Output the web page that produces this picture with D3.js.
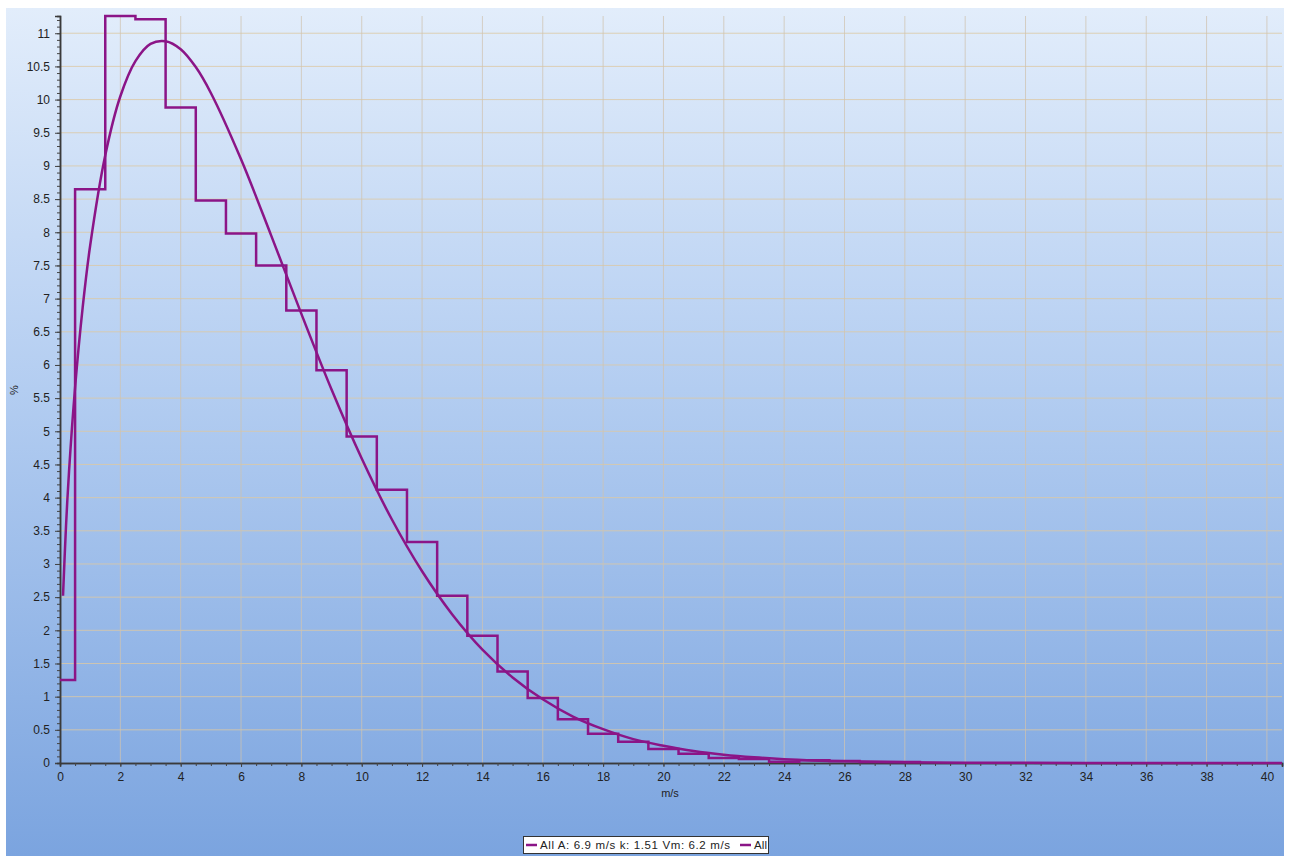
<!DOCTYPE html>
<html lang="en">

<head>
    <meta charset="UTF-8">
    <title>Weibull distribution</title>
    <script src="https://d3js.org/d3.v7.min.js"></script>
    <style>
        body { margin: 0; background: #fff; }
        text { font-family: "Liberation Sans", Arial, sans-serif; fill: #222; }
    </style>
</head>

<body>
    <div id="chart"></div>
    <script>
        // histogram bins (m/s) and frequency (%)
        const binEdges = [0, 0.5, 1.5, 2.5, 3.5, 4.5, 5.5, 6.5, 7.5, 8.5, 9.5, 10.5, 11.5, 12.5, 13.5, 14.5,
            15.5, 16.5, 17.5, 18.5, 19.5, 20.5, 21.5, 22.5, 23.5, 24.5, 25.5, 26.5, 27.5, 28.5];
        const binValues = [1.25, 8.65, 11.26, 11.21, 9.88, 8.48, 7.98, 7.5, 6.82, 5.92, 4.92, 4.12, 3.33, 2.52,
            1.92, 1.38, 0.98, 0.66, 0.44, 0.32, 0.21, 0.14, 0.075, 0.06, 0.02, 0.04, 0.03, 0.015, 0.015];

        // fitted curve
        const curveSpeed = [0.1, 0.2, 0.3, 0.5, 0.75, 1, 1.5, 2, 2.5, 3, 3.5, 4, 4.5, 5, 6, 7, 8, 9, 10, 11, 12,
            13, 14, 15, 16, 17, 18, 19, 20, 21, 22, 23, 24, 26, 28, 30, 32, 34, 36, 38, 40.5];
        const curvePct = [2.52, 3.58, 4.4, 5.66, 6.86, 7.8, 9.16, 10.05, 10.58, 10.84, 10.88, 10.76, 10.49, 10.1,
            9.1, 7.95, 6.77, 5.63, 4.59, 3.67, 2.89, 2.24, 1.71, 1.29, 0.96, 0.7, 0.51, 0.36, 0.26, 0.18, 0.125,
            0.086, 0.058, 0.026, 0.011, 0.004, 0.002, 0.001, 0, 0, 0];

        const xTicks = d3.range(0, 41, 2);
        const yTicks = d3.range(0, 11.01, 0.5);
        const legendLabels = ["All A: 6.9 m/s k: 1.51 Vm: 6.2 m/s", "All"];

        const W = 1290, H = 856;
        const purple = "#8b1587";

        const svg = d3.select("#chart").append("svg")
            .attr("width", W)
            .attr("height", H);

        const grad = svg.append("defs").append("linearGradient")
            .attr("id", "bg").attr("x1", 0).attr("y1", 0).attr("x2", 0).attr("y2", 1);
        grad.append("stop").attr("offset", "0%").attr("stop-color", "#e2edfb");
        grad.append("stop").attr("offset", "45%").attr("stop-color", "#b3cdf1");
        grad.append("stop").attr("offset", "100%").attr("stop-color", "#7ba4df");

        svg.append("rect")
            .attr("x", 6).attr("y", 8)
            .attr("width", 1278).attr("height", 848)
            .attr("fill", "url(#bg)");

        const xScale = d3.scaleLinear().domain([0, 40.5]).range([60, 1282]);
        const yScale = d3.scaleLinear().domain([0, 11.26]).range([763, 16]);

        // grid
        svg.append("g").selectAll("line")
            .data(yTicks.filter(d => d > 0))
            .join("line")
            .attr("x1", xScale(0)).attr("x2", xScale(40.5))
            .attr("y1", d => yScale(d)).attr("y2", d => yScale(d))
            .attr("stroke", "#dcc8a4").attr("stroke-opacity", 0.8).attr("stroke-width", 1);

        svg.append("g").selectAll("line")
            .data(xTicks.filter(d => d > 0))
            .join("line")
            .attr("x1", d => xScale(d)).attr("x2", d => xScale(d))
            .attr("y1", yScale(11.26)).attr("y2", yScale(0))
            .attr("stroke", "#cfc3b0").attr("stroke-opacity", 0.75).attr("stroke-width", 1);

        // axes
        svg.append("g")
            .attr("transform", "translate(0," + yScale(0) + ")")
            .call(d3.axisBottom(xScale).tickValues(xTicks).tickSize(4).tickPadding(5));
        svg.append("g")
            .attr("transform", "translate(0," + yScale(0) + ")")
            .call(d3.axisBottom(xScale).tickValues(d3.range(0.5, 40.5, 0.5)).tickSize(3).tickFormat(""));

        svg.append("g")
            .attr("transform", "translate(" + xScale(0) + ",0)")
            .call(d3.axisLeft(yScale).tickValues(yTicks).tickSize(5).tickPadding(5).tickFormat(d3.format("")));
        svg.append("g")
            .attr("transform", "translate(" + xScale(0) + ",0)")
            .call(d3.axisLeft(yScale).tickValues(d3.range(0.1, 11.25, 0.1)).tickSize(3).tickFormat(""));

        svg.selectAll(".domain").attr("stroke", "#3a3a3a").attr("stroke-width", 1.5);
        svg.selectAll(".tick line").attr("stroke", "#444");
        svg.selectAll(".tick text").attr("font-size", 12).attr("fill", "#222");

        svg.append("text")
            .attr("x", 670).attr("y", 797)
            .attr("text-anchor", "middle").attr("font-size", 11)
            .text("m/s");

        svg.append("text")
            .attr("transform", "translate(18,390) rotate(-90)")
            .attr("text-anchor", "middle").attr("font-size", 11)
            .text("%");

        // histogram as a step line
        const stepData = binValues.map((v, i) => ({ x: binEdges[i], y: v }));
        stepData.push({ x: binEdges[binEdges.length - 1], y: 0 });

        const stepLine = d3.line()
            .x(d => xScale(d.x))
            .y(d => yScale(d.y))
            .curve(d3.curveStepAfter);

        svg.append("path")
            .datum(stepData)
            .attr("fill", "none")
            .attr("stroke", purple)
            .attr("stroke-width", 2.5)
            .attr("d", stepLine);

        const fitLine = d3.line()
            .x((d, i) => xScale(curveSpeed[i]))
            .y(d => yScale(d))
            .curve(d3.curveCatmullRom);

        svg.append("path")
            .datum(curvePct)
            .attr("fill", "none")
            .attr("stroke", purple)
            .attr("stroke-width", 2.5)
            .attr("d", fitLine);

        // legend
        const legend = svg.append("g");
        legend.append("rect")
            .attr("x", 523.5).attr("y", 836.5)
            .attr("width", 245).attr("height", 17)
            .attr("fill", "#fff").attr("stroke", "#333");

        const legendX = [526, 740];
        const legendW = [190, 13];
        legendLabels.forEach((label, i) => {
            legend.append("line")
                .attr("x1", legendX[i]).attr("x2", legendX[i] + 11)
                .attr("y1", 845).attr("y2", 845)
                .attr("stroke", purple).attr("stroke-width", 2.5);
            legend.append("text")
                .attr("x", legendX[i] + 14).attr("y", 849)
                .attr("font-size", 11.5)
                .attr("textLength", legendW[i])
                .attr("lengthAdjust", "spacing")
                .text(label);
        });
    </script>
</body>

</html>
